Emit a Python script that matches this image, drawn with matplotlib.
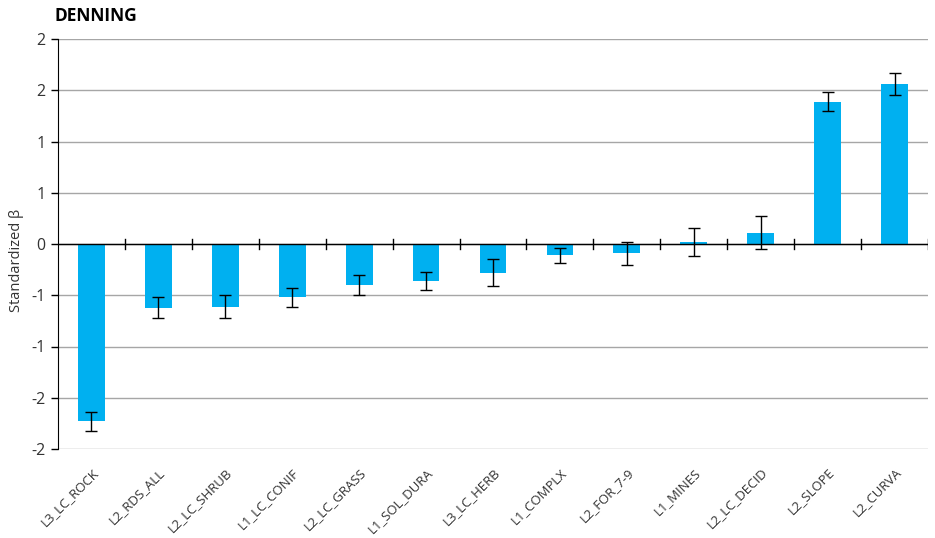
import numpy as np
import matplotlib.pyplot as plt

plt.rcParams['font.family'] = ['Open Sans', 'DejaVu Sans']

# standardized coefficients and their errors
labels = ["L3_LC_ROCK", "L2_RDS_ALL", "L2_LC_SHRUB", "L1_LC_CONIF", "L2_LC_GRASS",
          "L1_SOL_DURA", "L3_LC_HERB", "L1_COMPLX", "L2_FOR_7-9", "L1_MINES",
          "L2_LC_DECID", "L2_SLOPE", "L2_CURVA"]
beta = [-1.73, -0.62, -0.61, -0.52, -0.40, -0.36, -0.28, -0.11, -0.09,
        0.02, 0.11, 1.39, 1.56]
err = [0.095, 0.10, 0.11, 0.09, 0.10, 0.09, 0.13, 0.075, 0.11, 0.14, 0.16, 0.09, 0.11]

yticks = [-2.0, -1.5, -1.0, -0.5, 0.0, 0.5, 1.0, 1.5, 2.0]
ytick_labels = ["-2", "-2", "-1", "-1", "0", "1", "1", "2", "2"]

fig = plt.figure(figsize=(9.35, 5.38), dpi=100)
ax = fig.add_axes([58 / 935, 1 - 449 / 538, (928 - 58) / 935, (449 - 39) / 538])

x = np.arange(len(labels))
ax.bar(x, beta, width=0.4, color="#00B0F0", zorder=3,
       yerr=err, error_kw=dict(ecolor="black", elinewidth=1, capsize=4, capthick=1))

ax.set_xlim(-0.5, len(labels) - 0.5)
ax.set_ylim(-2, 2)
ax.set_yticks(yticks)
ax.set_yticklabels(ytick_labels, fontsize=11.5, color="#333333")
ax.grid(axis="y", color="#a6a6a6", linewidth=1, zorder=0)
ax.tick_params(axis="y", length=5, width=1, color="black", pad=4)

for s in ["top", "right", "bottom"]:
    ax.spines[s].set_visible(False)
ax.spines["left"].set_color("black")

# zero line with category-boundary ticks
ax.axhline(0, color="black", linewidth=1, zorder=4)
for b in np.arange(0.5, len(labels), 1.0):
    ax.plot([b, b], [-0.045, 0.045], color="black", linewidth=1, zorder=4)

ax.set_xticks(x)
ax.set_xticklabels(labels, rotation=45, ha="right", rotation_mode="anchor",
                   fontsize=9.5, color="#333333")
ax.tick_params(axis="x", length=0, pad=12)

ax.set_ylabel("Standardized β", fontsize=10.5, color="#333333")
ax.yaxis.set_label_coords(-0.039, 0.46)

fig.text(55 / 935, 1 - 16 / 538, "DENNING", fontsize=12.5, fontweight="bold",
         va="center", ha="left")

fig.savefig("out.png", dpi=100)
